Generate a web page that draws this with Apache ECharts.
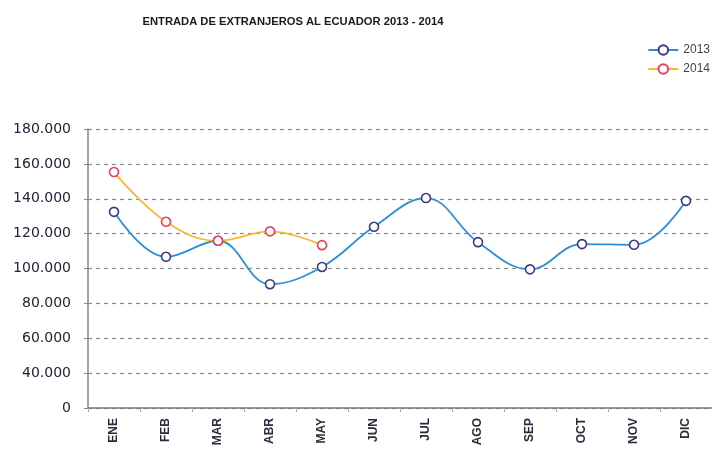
<!DOCTYPE html>
<html>
<head>
<meta charset="utf-8">
<script src="https://cdn.jsdelivr.net/npm/echarts@6/dist/echarts.min.js"></script>
<style>
html,body{margin:0;padding:0;background:#fff;}
#c{width:712px;height:454px;}
</style>
</head>
<body>
<div id="c"></div>
<script>
var months = ['ENE','FEB','MAR','ABR','MAY','JUN','JUL','AGO','SEP','OCT','NOV','DIC'];
var values2013 = [132500, 106700, 115900, 91000, 100900, 123900, 140400, 115100, 99500, 114000, 113600, 138800];
var values2014 = [155300, 126800, 115900, 121300, 113400];
var yTicks = [20000, 40000, 60000, 80000, 100000, 120000, 140000, 160000, 180000];
var yTickLabels = ['0', '40.000', '60.000', '80.000', '100.000', '120.000', '140.000', '160.000', '180.000'];

var chart = echarts.init(document.getElementById('c'));
chart.setOption({
  animation: false,
  title: {
    text: 'ENTRADA DE EXTRANJEROS AL ECUADOR 2013 - 2014',
    left: 288, top: 11, textAlign: 'center',
    textStyle: {fontFamily: 'Liberation Sans', fontSize: 11.2, fontWeight: 'bold', color: '#1a1a1a'}
  },
  legend: {
    orient: 'vertical', right: -3, top: 39, itemGap: 7,
    itemWidth: 30, itemHeight: 12,
    textStyle: {fontFamily: 'Liberation Sans', fontSize: 12, color: '#444'},
    data: ['2013', '2014']
  },
  grid: {left: 88, right: 0, top: 129, bottom: 46},
  xAxis: {
    type: 'category', data: months, boundaryGap: true,
    axisLine: {lineStyle: {color: '#777', width: 1.5}},
    axisTick: {show: true, length: 4, lineStyle: {color: '#aaa'}},
    axisLabel: {rotate: 90, margin: 10, fontFamily: 'Liberation Sans', fontSize: 12, fontWeight: 'bold', color: '#2a2a3a'}
  },
  yAxis: {
    type: 'value', min: 20000, max: 180000, interval: 20000,
    axisLine: {show: true, lineStyle: {color: '#888', width: 1.5}},
    axisTick: {show: true, length: 4, lineStyle: {color: '#888'}},
    axisLabel: {
      margin: 17, fontFamily: 'DejaVu Sans', fontSize: 14, color: '#23233a',
      formatter: function (v) { var i = yTicks.indexOf(v); return i >= 0 ? yTickLabels[i] : ''; }
    },
    splitLine: {show: true, lineStyle: {color: '#888', type: [4, 4], width: 1.2}}
  },
  series: [
    {
      name: '2013', type: 'line', smooth: 0.4, data: values2013,
      symbol: 'circle', symbolSize: 9,
      lineStyle: {color: '#2f8fd6', width: 1.8},
      itemStyle: {color: '#ffffff', borderColor: '#3a3a80', borderWidth: 1.6}
    },
    {
      name: '2014', type: 'line', smooth: 0.4, data: values2014,
      symbol: 'circle', symbolSize: 9,
      lineStyle: {color: '#f7b830', width: 1.8},
      itemStyle: {color: '#ffffff', borderColor: '#e8405a', borderWidth: 1.6}
    }
  ]
});
</script>
</body>
</html>
